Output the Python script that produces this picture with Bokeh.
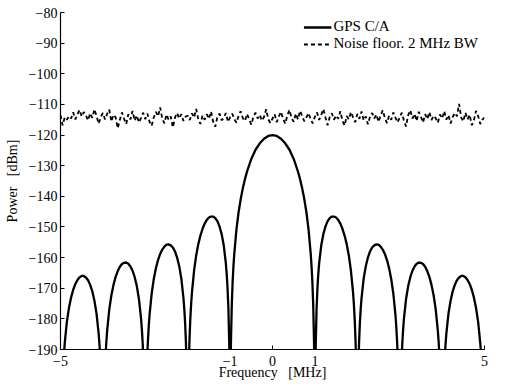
from bokeh.plotting import figure
from bokeh.models import Range1d, FixedTicker
from bokeh.embed import file_html
from bokeh.resources import INLINE

# ---------------- data ----------------
x_ticks = [-5, -1, 0, 1, 5]
x_tick_labels = ["\u22125", "\u22121", "0", "1", "5"]
y_ticks = [-190, -180, -170, -160, -150, -140, -130, -120, -110, -100, -90, -80]
y_tick_labels = ["\u2212190", "\u2212180", "\u2212170", "\u2212160", "\u2212150", "\u2212140",
                 "\u2212130", "\u2212120", "\u2212110", "\u2212100", "\u221290", "\u221280"]

# GPS C/A spectrum (MHz, dBm)
gps_freq = [
    -4.92, -4.90, -4.85, -4.80, -4.75, -4.70, -4.65, -4.60, -4.55, -4.50, -4.45, -4.40, -4.35, -4.30, -4.25, -4.20, -4.15, -4.10, -4.08, -4.06,
    -3.94, -3.92, -3.90, -3.85, -3.80, -3.75, -3.70, -3.65, -3.60, -3.55, -3.50, -3.45, -3.40, -3.35, -3.30, -3.25, -3.20, -3.15, -3.10, -3.08, -3.06, -3.04,
    -2.96, -2.94, -2.92, -2.90, -2.85, -2.80, -2.75, -2.70, -2.65, -2.60, -2.55, -2.50, -2.45, -2.40, -2.35, -2.30, -2.25, -2.20, -2.15, -2.10, -2.08, -2.06, -2.04, -2.02,
    -1.98, -1.96, -1.94, -1.92, -1.90, -1.85, -1.80, -1.75, -1.70, -1.65, -1.60, -1.55, -1.50, -1.45, -1.40, -1.35, -1.30, -1.25, -1.20, -1.15, -1.10, -1.08, -1.06, -1.04, -1.02, -1.01,
    -0.99, -0.98, -0.96, -0.94, -0.92, -0.90, -0.85, -0.80, -0.75, -0.70, -0.65, -0.60, -0.50, -0.40, -0.30, -0.20, -0.10,
    0.00, 0.10, 0.20, 0.30, 0.40, 0.50, 0.60, 0.65, 0.70, 0.75, 0.80, 0.85, 0.90, 0.92, 0.94, 0.96, 0.98, 0.99,
    1.01, 1.02, 1.04, 1.06, 1.08, 1.10, 1.15, 1.20, 1.25, 1.30, 1.35, 1.40, 1.45, 1.50, 1.55, 1.60, 1.65, 1.70, 1.75, 1.80, 1.85, 1.90, 1.92, 1.94, 1.96, 1.98,
    2.02, 2.04, 2.06, 2.08, 2.10, 2.15, 2.20, 2.25, 2.30, 2.35, 2.40, 2.45, 2.50, 2.55, 2.60, 2.65, 2.70, 2.75, 2.80, 2.85, 2.90, 2.92, 2.94, 2.96,
    3.04, 3.06, 3.08, 3.10, 3.15, 3.20, 3.25, 3.30, 3.35, 3.40, 3.45, 3.50, 3.55, 3.60, 3.65, 3.70, 3.75, 3.80, 3.85, 3.90, 3.92, 3.94,
    4.06, 4.08, 4.10, 4.15, 4.20, 4.25, 4.30, 4.35, 4.40, 4.45, 4.50, 4.55, 4.60, 4.65, 4.70, 4.75, 4.80, 4.85, 4.90, 4.92,
]
gps_power = [
    -191.7, -187.9, -181.0, -176.4, -173.0, -170.5, -168.6, -167.3, -166.4, -166.0, -166.0, -166.5, -167.4, -168.9, -171.0, -174.1, -178.3, -184.8, -188.5, -193.3,
    -192.8, -187.8, -183.9, -177.0, -172.3, -168.9, -166.3, -164.4, -163.0, -162.1, -161.7, -161.6, -162.0, -162.9, -164.3, -166.4, -169.3, -173.5, -179.9, -183.6, -188.4, -195.3,
    -194.8, -187.7, -182.7, -178.8, -171.8, -167.0, -163.5, -160.8, -158.8, -157.4, -156.4, -155.8, -155.7, -156.0, -156.7, -158.0, -160.0, -162.8, -166.9, -173.2, -176.8, -181.5, -188.4, -200.2,
    -199.8, -187.7, -180.5, -175.4, -171.4, -164.3, -159.3, -155.6, -152.8, -150.6, -148.9, -147.7, -146.9, -146.6, -146.6, -147.1, -148.1, -149.8, -152.3, -156.0, -161.9, -165.4, -170.0, -176.6, -188.3, -200.2,
    -199.8, -187.6, -175.3, -167.9, -162.6, -158.5, -150.8, -145.2, -140.9, -137.4, -134.4, -131.9, -127.8, -124.8, -122.7, -121.2, -120.3,
    -120.0, -120.3, -121.2, -122.7, -124.8, -127.8, -131.9, -134.4, -137.4, -140.9, -145.2, -150.8, -158.5, -162.6, -167.9, -175.3, -187.6, -199.8,
    -200.2, -188.3, -176.6, -170.0, -165.4, -161.9, -156.0, -152.3, -149.8, -148.1, -147.1, -146.6, -146.6, -146.9, -147.7, -148.9, -150.6, -152.8, -155.6, -159.3, -164.3, -171.4, -175.4, -180.5, -187.7, -199.8,
    -200.2, -188.4, -181.5, -176.8, -173.2, -166.9, -162.8, -160.0, -158.0, -156.7, -156.0, -155.7, -155.8, -156.4, -157.4, -158.8, -160.8, -163.5, -167.0, -171.8, -178.8, -182.7, -187.7, -194.8,
    -195.3, -188.4, -183.6, -179.9, -173.5, -169.3, -166.4, -164.3, -162.9, -162.0, -161.6, -161.7, -162.1, -163.0, -164.4, -166.3, -168.9, -172.3, -177.0, -183.9, -187.8, -192.8,
    -193.3, -188.5, -184.8, -178.3, -174.1, -171.0, -168.9, -167.4, -166.5, -166.0, -166.0, -166.4, -167.3, -168.6, -170.5, -173.0, -176.4, -181.0, -187.9, -191.7,
]

# Noise floor, 2 MHz BW (dBm), sampled every 0.05 MHz from -5 to 5
noise_power = [
    -113.5, -116.8, -114.2, -115.0, -113.8, -114.6, -112.6, -114.9, -113.2, -111.8, -114.0, -112.5, -113.6, -115.2, -112.9, -114.4, -111.6, -113.8, -116.3, -114.1,
    -112.8, -114.9, -113.1, -111.7, -115.6, -113.4, -114.2, -117.8, -115.0, -112.6, -114.7, -116.4, -113.2, -114.9, -112.1, -115.3, -113.6, -115.9, -114.4, -112.7,
    -114.8, -113.0, -115.7, -117.0, -114.2, -112.4, -113.9, -111.0, -114.6, -116.2, -113.3, -115.0, -113.9, -117.5, -114.3, -112.8, -114.6, -113.2, -115.4, -114.0,
    -113.7, -115.1, -112.9, -114.3, -111.5, -114.8, -116.4, -113.6, -115.0, -113.2, -114.7, -112.3, -115.6, -117.3, -114.1, -113.0, -115.2, -114.4, -112.8, -115.7,
    -114.2, -113.0, -114.8, -116.0, -113.7, -112.2, -114.5, -115.4, -113.1, -114.9, -116.6, -114.0, -112.7, -114.6, -113.4, -115.3, -114.1, -111.6, -114.8, -116.1,
    -114.6, -113.2, -115.8, -113.9, -112.4, -114.7, -116.3, -113.6, -111.8, -114.4, -115.7, -113.0, -114.9, -112.1, -113.8, -115.5, -114.2, -112.8, -114.9, -116.2,
    -114.0, -112.6, -115.1, -113.4, -111.5, -114.3, -116.8, -114.1, -112.9, -115.0, -113.6, -114.7, -112.2, -115.4, -116.9, -113.8, -114.9, -112.5, -114.2, -115.8,
    -113.1, -114.7, -112.3, -115.2, -113.9, -116.5, -114.0, -112.8, -114.6, -113.3, -115.7, -113.6, -111.9, -114.4, -116.1, -113.7, -115.0, -112.6, -114.3, -115.9,
    -114.2, -112.7, -115.3, -117.2, -113.5, -111.9, -114.6, -113.1, -115.4, -112.4, -114.0, -115.9, -113.2, -114.8, -112.5, -115.1, -113.7, -114.5, -116.0, -113.3,
    -114.6, -112.2, -115.0, -113.5, -116.2, -114.1, -112.8, -113.9, -109.8, -114.3, -115.5, -112.7, -114.9, -113.4, -116.8, -115.2, -112.1, -113.8, -116.4, -115.0,
    -114.3,
]
noise_freq = [round(-5 + 0.05 * i, 2) for i in range(len(noise_power))]

series_labels = ["GPS C/A", "Noise floor. 2 MHz BW"]

# ---------------- figure ----------------
FONT = "Liberation Serif"

p = figure(width=489, height=382, output_backend="svg", toolbar_location=None,
           x_range=Range1d(-5, 5), y_range=Range1d(-190, -80),
           min_border_top=12, min_border_right=5, min_border_left=60, min_border_bottom=0)

p.line(gps_freq, gps_power, line_color="black", line_width=2.3, legend_label=series_labels[0])
p.line(noise_freq, noise_power, line_color="black", line_width=1.8, line_dash="4 3",
       legend_label=series_labels[1])

p.outline_line_color = None
p.xgrid.visible = False
p.ygrid.visible = False
p.background_fill_color = "white"
p.border_fill_color = "white"

for ax in (p.xaxis[0], p.yaxis[0]):
    ax.axis_line_color = "black"
    ax.axis_line_width = 1.2
    ax.major_tick_in = 4
    ax.major_tick_out = 0
    ax.minor_tick_in = 0
    ax.minor_tick_out = 0
    ax.major_tick_line_color = "black"
    ax.major_label_text_font = FONT
    ax.major_label_text_font_size = "14px"
    ax.major_label_text_color = "black"
    ax.axis_label_text_font = FONT
    ax.axis_label_text_font_size = "14px"
    ax.axis_label_text_font_style = "normal"
    ax.axis_label_text_color = "black"

p.xaxis[0].ticker = FixedTicker(ticks=x_ticks)
p.xaxis[0].major_label_overrides = dict(zip(x_ticks, x_tick_labels))
p.xaxis[0].axis_label = "Frequency\u00a0\u00a0\u00a0[MHz]"
p.xaxis[0].major_label_standoff = 6
p.xaxis[0].axis_label_standoff = -4

p.yaxis[0].ticker = FixedTicker(ticks=y_ticks)
p.yaxis[0].major_label_overrides = dict(zip(y_ticks, y_tick_labels))
p.yaxis[0].axis_label = "Power\u00a0\u00a0\u00a0[dBm]"
p.yaxis[0].major_label_standoff = 3
p.yaxis[0].axis_label_standoff = 6

lg = p.legend[0]
lg.location = "top_right"
lg.margin = 6
lg.padding = 2
lg.spacing = 0
lg.border_line_color = None
lg.background_fill_alpha = 0
lg.label_text_font = FONT
lg.label_text_font_size = "15px"
lg.label_text_color = "black"
lg.glyph_width = 28
lg.glyph_height = 16
lg.label_height = 16
lg.label_standoff = 2

open("out.html", "w").write(file_html(p, INLINE))
